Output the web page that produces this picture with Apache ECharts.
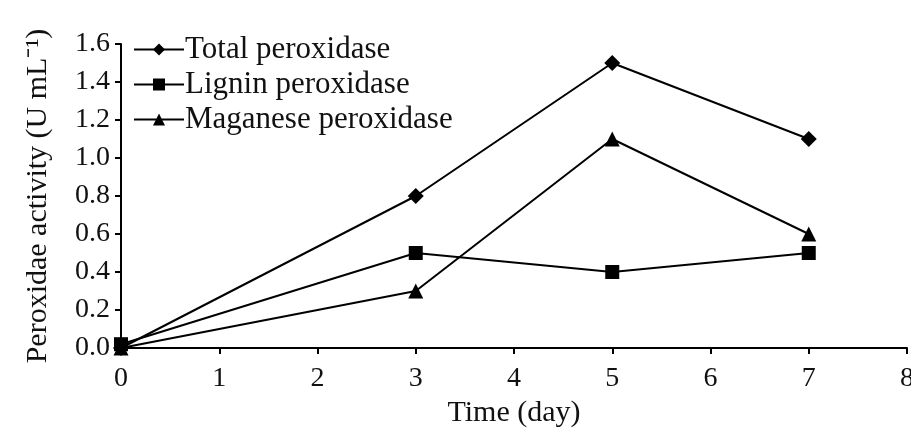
<!DOCTYPE html>
<html><head><meta charset="utf-8">
<script src="https://cdn.jsdelivr.net/npm/echarts@6/dist/echarts.min.js"></script>
<style>html,body{margin:0;padding:0;background:#fff}#c{width:911px;height:431px}</style>
</head><body><div id="c"></div>
<script>
const days = [0, 3, 5, 7];
const totalPeroxidase = [0, 0.8, 1.5, 1.1];
const ligninPeroxidase = [0.02, 0.5, 0.4, 0.5];
const manganesePeroxidase = [0, 0.3, 1.1, 0.6];
const seriesNames = ['Total peroxidase', 'Lignin peroxidase', 'Maganese peroxidase'];
const xTicks = [0,1,2,3,4,5,6,7,8];
const yTicks = [0,0.2,0.4,0.6,0.8,1.0,1.2,1.4,1.6];

const font = 'Liberation Serif, Times New Roman, serif';
const pair = arr => days.map((d,i)=>[d, arr[i]]);
const mk = (name, data, symbol, size) => ({
  name, type:'line', data: pair(data), symbol, symbolSize: size,
  lineStyle:{color:'#000', width:2}, itemStyle:{color:'#000'}, z: 3
});
const chart = echarts.init(document.getElementById('c'));
chart.setOption({
  animation:false,
  backgroundColor:'#fff',
  grid:{left:121, right:4, top:44, bottom:83, outerBoundsMode:'none', containLabel:false},
  legend:{
    orient:'vertical', left:128, top:29, itemGap:4, itemWidth:50, itemHeight:15,
    textStyle:{fontFamily:font, fontSize:31, color:'#111', padding:[0,0,0,-4]},
    data: seriesNames
  },
  xAxis:{
    type:'value', min:0, max:8, interval:1,
    name:'Time (day)', nameLocation:'middle', nameGap:48,
    nameTextStyle:{fontFamily:font, fontSize:30, color:'#111'},
    axisLine:{lineStyle:{color:'#000', width:2}},
    axisTick:{show:true, length:6, lineStyle:{color:'#000', width:2}},
    axisLabel:{fontFamily:font, fontSize:28, color:'#111', margin:17, formatter: v => xTicks.includes(v) ? String(v) : ''},
    splitLine:{show:false}
  },
  yAxis:{
    type:'value', min:0, max:1.6, interval:0.2,
    name:'Peroxidae activity (U mL\u207B\u00B9)', nameLocation:'middle', nameGap:68,
    nameTextStyle:{fontFamily:font, fontSize:30, color:'#111'},
    axisLine:{show:true, lineStyle:{color:'#000', width:2}},
    axisTick:{show:true, length:6, lineStyle:{color:'#000', width:2}},
    axisLabel:{fontFamily:font, fontSize:28, color:'#111', margin:11, formatter: v => {
      const t = yTicks.find(y => Math.abs(y - v) < 1e-6); return t === undefined ? '' : t.toFixed(1);
    }},
    splitLine:{show:false}
  },
  series:[
    mk(seriesNames[0], totalPeroxidase, 'diamond', 16),
    mk(seriesNames[1], ligninPeroxidase, 'rect', 14),
    mk(seriesNames[2], manganesePeroxidase, 'triangle', 15)
  ]
});
</script></body></html>
